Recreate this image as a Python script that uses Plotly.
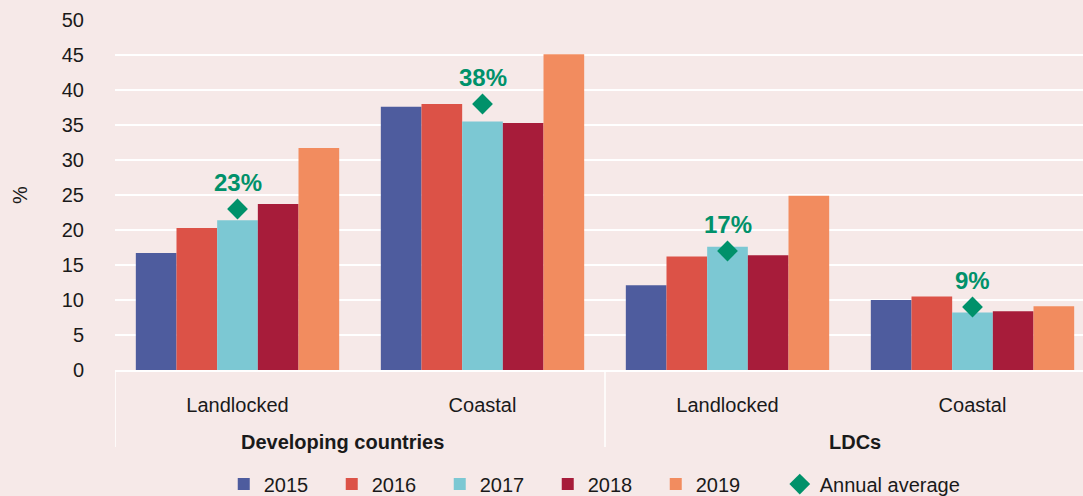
import plotly.graph_objects as go

# Category levels: country group and coastal/landlocked split
group_names = ["Developing countries", "LDCs"]
regions = ["Landlocked", "Coastal", "Landlocked", "Coastal"]
positions = [0, 1, 2, 3]

# Share (%) by year
years = ["2015", "2016", "2017", "2018", "2019"]
share_2015 = [16.7, 37.6, 12.1, 10.0]
share_2016 = [20.3, 38.0, 16.2, 10.5]
share_2017 = [21.4, 35.5, 17.6, 8.2]
share_2018 = [23.7, 35.3, 16.4, 8.4]
share_2019 = [31.7, 45.1, 24.9, 9.1]
annual_average = [23, 38, 17, 9]

y_ticks = [0, 5, 10, 15, 20, 25, 30, 35, 40, 45, 50]

year_colors = ["#4e5c9e", "#dc5247", "#7cc8d3", "#a71c3a", "#f28c5f"]
avg_color = "#00916a"
bg = "#f6e9e8"
font_family = "Liberation Sans, Arial, sans-serif"

series = [share_2015, share_2016, share_2017, share_2018, share_2019]

fig = go.Figure()
for name, vals, col in zip(years, series, year_colors):
    fig.add_trace(go.Bar(
        x=positions, y=vals, name=name, legend="legend",
        marker=dict(color=col, line=dict(width=0)),
    ))

fig.add_trace(go.Scatter(
    x=positions, y=annual_average, name="Annual average", mode="markers",
    legend="legend2",
    marker=dict(symbol="diamond", size=16, color=avg_color),
))

# value labels above the average markers
for xp, v in zip(positions, annual_average):
    fig.add_annotation(
        x=xp, y=v, text=f"<b>{v}%</b>", showarrow=False,
        yshift=27, font=dict(size=24, color=avg_color, family=font_family),
    )

# group labels under the region labels
for gx, gname in zip([0.43, 2.52], group_names):
    fig.add_annotation(
        x=gx, xref="x", y=-0.206, yref="paper", yanchor="middle",
        text=f"<b>{gname}</b>", showarrow=False,
        font=dict(size=20, color="#1a1a1a", family=font_family),
    )

# dividers between the two country groups
for dx in [-0.5, 1.5]:
    fig.add_shape(
        type="line", xref="x", yref="paper", x0=dx, x1=dx, y0=0, y1=-0.22,
        line=dict(color="white", width=1.5),
    )

fig.update_layout(
    width=1083, height=496,
    margin=dict(l=115, r=0, t=20, b=126),
    paper_bgcolor=bg, plot_bgcolor=bg,
    font=dict(family=font_family, size=20, color="#1a1a1a"),
    barmode="group", bargap=0.17, bargroupgap=0,
    legend=dict(
        orientation="h", xref="container", yref="container",
        x=0.2066, xanchor="left", y=0.024, yanchor="middle",
        bgcolor="rgba(0,0,0,0)", font=dict(size=20),
        entrywidth=63, entrywidthmode="pixels",
        traceorder="normal",
    ),
    legend2=dict(
        orientation="h", xref="container", yref="container",
        x=0.72, xanchor="left", y=0.024, yanchor="middle",
        bgcolor="rgba(0,0,0,0)", font=dict(size=20),
    ),
    xaxis=dict(
        range=[-0.5, 3.451], tickvals=positions, ticktext=regions,
        showline=True, linecolor="white", linewidth=2,
        showgrid=False, zeroline=False, ticks="",
        ticklabelstandoff=16, tickfont=dict(size=20),
    ),
    yaxis=dict(
        range=[0, 50], tickvals=y_ticks,
        showgrid=True, gridcolor="white", gridwidth=1.5,
        zeroline=False, showline=False, ticks="",
        ticklabelstandoff=30, tickfont=dict(size=20),
        title=dict(text="%", font=dict(size=20), standoff=28),
    ),
)

fig.write_html("out.html")
